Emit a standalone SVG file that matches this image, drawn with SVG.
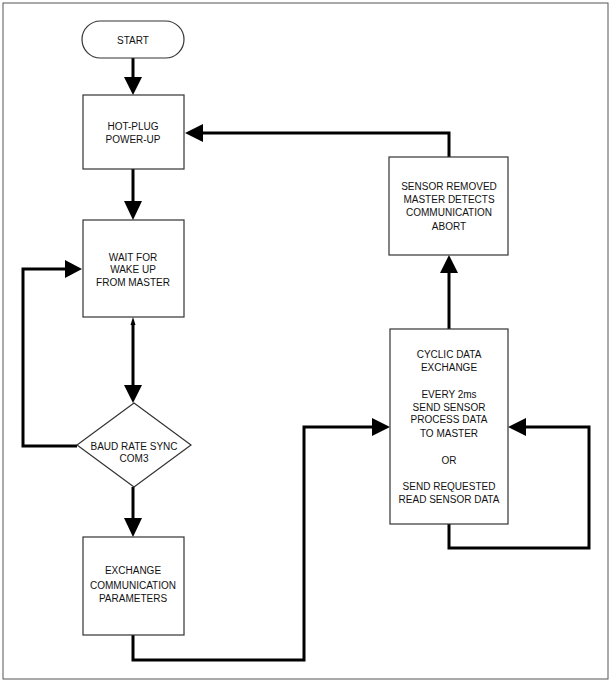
<svg xmlns="http://www.w3.org/2000/svg" width="610" height="682" viewBox="0 0 610 682">
<defs>
<style>
.box{fill:#fff;stroke:#333;stroke-width:1.2}
.t{font-family:"Liberation Sans",Arial,sans-serif;font-size:10px;fill:#111;text-anchor:middle}
.c{fill:none;stroke:#000;stroke-width:3}
.h{fill:#000}
</style>
</defs>
<rect x="3" y="3" width="605" height="676" fill="#fff" stroke="#555" stroke-width="1"/>
<g id="connectors">
<path class="c" d="M133 58V79"/>
<polygon class="h" points="124,77 142,77 133,95"/>
<path class="c" d="M133 169V203"/>
<polygon class="h" points="124,201 142,201 133,220"/>
<path class="c" d="M133 324V387"/>
<polygon class="h" points="130.5,325 135.5,325 133,317"/>
<polygon class="h" points="124,385 142,385 133,403"/>
<path class="c" d="M77 446H23V269H67"/>
<polygon class="h" points="65,260 65,278 82,269"/>
<path class="c" d="M133 487V520"/>
<polygon class="h" points="124,518 142,518 133,537"/>
<path class="c" d="M133 635V660H304V427H374"/>
<polygon class="h" points="372,418 372,436 390,427"/>
<path class="c" d="M449 524V548H589V427H524"/>
<polygon class="h" points="526,418 526,436 508,427"/>
<path class="c" d="M449 329V271"/>
<polygon class="h" points="440,273 458,273 449,255"/>
<path class="c" d="M449 157V133H201"/>
<polygon class="h" points="203,124 203,142 185,133"/>
</g>
<g id="start">
<rect class="box" x="82" y="21" width="102" height="37" rx="18.5"/>
<text class="t" x="133" y="43.5">START</text>
</g>
<g id="hotplug">
<rect class="box" x="83" y="95" width="101" height="74"/>
<text class="t" x="133" y="130">HOT-PLUG</text>
<text class="t" x="133" y="142.5">POWER-UP</text>
</g>
<g id="wait">
<rect class="box" x="83" y="220" width="101" height="97"/>
<text class="t" x="133" y="261">WAIT FOR</text>
<text class="t" x="133" y="273">WAKE UP</text>
<text class="t" x="133" y="286">FROM MASTER</text>
</g>
<g id="baud">
<polygon class="box" points="134,403 191,445 134,487 77,445"/>
<text class="t" x="134" y="449.5">BAUD RATE SYNC</text>
<text class="t" x="134" y="461.5">COM3</text>
</g>
<g id="exchange">
<rect class="box" x="83" y="537" width="101" height="98"/>
<text class="t" x="133" y="574">EXCHANGE</text>
<text class="t" x="133" y="589">COMMUNICATION</text>
<text class="t" x="133" y="601.5">PARAMETERS</text>
</g>
<g id="sensor">
<rect class="box" x="389" y="157" width="119" height="98"/>
<text class="t" x="449" y="189.5">SENSOR REMOVED</text>
<text class="t" x="449" y="202.5">MASTER DETECTS</text>
<text class="t" x="449" y="215.5">COMMUNICATION</text>
<text class="t" x="449" y="229.5">ABORT</text>
</g>
<g id="cyclic">
<rect class="box" x="390" y="329" width="118" height="195"/>
<text class="t" x="449" y="357.5">CYCLIC DATA</text>
<text class="t" x="449" y="370.5">EXCHANGE</text>
<text class="t" x="449" y="397.5">EVERY 2ms</text>
<text class="t" x="449" y="410.5">SEND SENSOR</text>
<text class="t" x="449" y="422.5">PROCESS DATA</text>
<text class="t" x="449" y="436.5">TO MASTER</text>
<text class="t" x="449" y="463.5">OR</text>
<text class="t" x="449" y="489.5">SEND REQUESTED</text>
<text class="t" x="449" y="502.5">READ SENSOR DATA</text>
</g>
</svg>
